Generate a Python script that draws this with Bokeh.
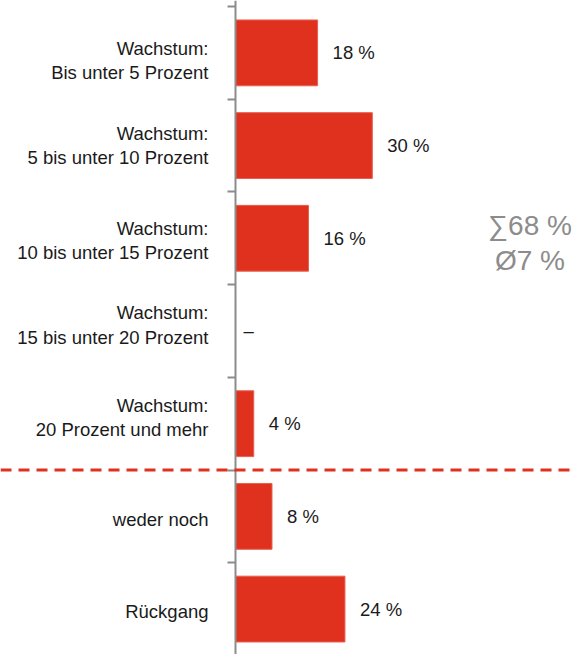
from bokeh.plotting import figure
from bokeh.models import Range1d, LinearAxis, FixedTicker, Span, Label, ColumnDataSource
from bokeh.core.properties import value
from bokeh.embed import file_html
from bokeh.resources import INLINE

categories = [
    "Wachstum:\nBis unter 5 Prozent",
    "Wachstum:\n5 bis unter 10 Prozent",
    "Wachstum:\n10 bis unter 15 Prozent",
    "Wachstum:\n15 bis unter 20 Prozent",
    "Wachstum:\n20 Prozent und mehr",
    "weder noch",
    "Rückgang",
]
values = [18, 30, 16, 0, 4, 8, 24]
value_labels = ["18 %", "30 %", "16 %", "–", "4 %", "8 %", "24 %"]
summary_labels = ["∑68 %", "Ø7 %"]
separator_after = "Wachstum:\n20 Prozent und mehr"

# small vertical nudges (in pixels, downwards) of the category labels, as in the original
label_nudge_px = [8, 0, 2, -6, -6, 3, 2]

n = len(categories)
ys = [n - 0.5 - i for i in range(n)]
boundaries = [float(k) for k in range(n + 1)]
sep_y = ys[categories.index(separator_after)] - 0.5

PX_PER_UNIT_Y = 92.7
label_ticks = [round(y - d / PX_PER_UNIT_Y, 4) for y, d in zip(ys, label_nudge_px)]

RED = "#E0301E"
GRAY = "#8C8C8C"
FONT = "Liberation Sans"
FS = "18.5px"

p = figure(width=575, height=654, output_backend="svg", toolbar_location=None,
           x_range=Range1d(-51.54, 74.56), y_range=Range1d(0.010, 7.065),
           x_axis_location=None, y_axis_location=None,
           min_border=0, min_border_left=0, min_border_right=0,
           min_border_top=0, min_border_bottom=0)
p.outline_line_color = None
p.xgrid.visible = False
p.ygrid.visible = False

src = ColumnDataSource(dict(
    y=ys, v=values, lab=value_labels,
    off=[15 if v > 0 else 8 for v in values],
))

p.hbar(y="y", left=0, right="v", height=0.71, source=src,
       fill_color=RED, line_color="#E8604F", line_width=1)

p.text(x="v", y="y", text="lab", x_offset="off", source=src,
       text_font=value(FONT), text_font_size=FS, text_color="#1a1a1a",
       text_baseline="middle", text_align="left")

yaxis = LinearAxis(fixed_location=0,
                   ticker=FixedTicker(ticks=label_ticks, minor_ticks=boundaries),
                   major_label_overrides={t: c for t, c in zip(label_ticks, categories)})
yaxis.axis_line_color = GRAY
yaxis.axis_line_width = 2
yaxis.major_tick_line_color = None
yaxis.major_tick_out = 0
yaxis.major_tick_in = 0
yaxis.minor_tick_line_color = GRAY
yaxis.minor_tick_line_width = 2
yaxis.minor_tick_out = 8
yaxis.minor_tick_in = 0
yaxis.major_label_standoff = 19
yaxis.major_label_text_font = FONT
yaxis.major_label_text_font_size = FS
yaxis.major_label_text_color = "#1a1a1a"
yaxis.major_label_text_line_height = 1.15
p.add_layout(yaxis, "left")

p.add_layout(Span(location=sep_y, dimension="width", line_color=RED,
                  line_width=3, line_dash="11 7"))

for lab, yy in zip(summary_labels, [4.638, 4.26]):
    p.add_layout(Label(x=64.58, y=yy, text=lab, text_align="center",
                       text_baseline="middle", text_font=FONT,
                       text_font_size="28px", text_color=GRAY))

open("out.html", "w").write(file_html(p, INLINE))
